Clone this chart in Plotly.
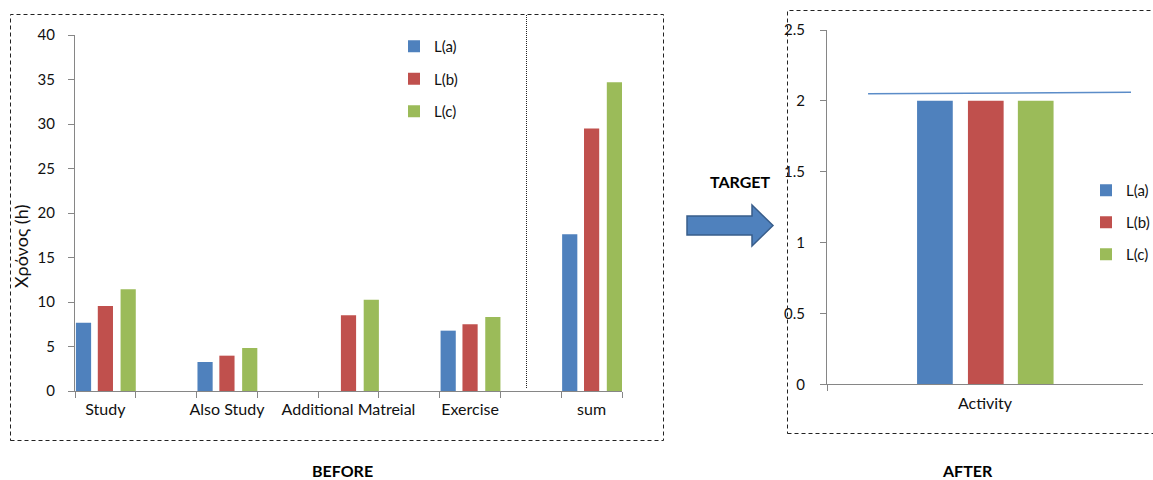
import plotly.graph_objects as go

W, H = 1153, 480

# ---------------- data ----------------
before_categories = ["Study", "Also Study", "Additional Matreial", "Exercise", "sum"]
before_La = [7.67, 3.26, None, 6.78, 17.6]
before_Lb = [9.55, 3.97, 8.5, 7.49, 29.5]
before_Lc = [11.43, 4.83, 10.26, 8.31, 34.7]

after_categories = ["Activity"]
after_La = [2]
after_Lb = [2]
after_Lc = [2]
target_line = [2.05, 2.06]

series_names = ["L(a)", "L(b)", "L(c)"]
before_ticks = [0, 5, 10, 15, 20, 25, 30, 35, 40]
after_ticks = [0, 0.5, 1, 1.5, 2, 2.5]

# ---------------- styles ----------------
colors = ["#4F81BD", "#C0504D", "#9BBB59"]
FONT = "Lato"
AXIS_COL = "#868686"
TXT = "#111111"


def fx(p):
    return p / W


def fy(p):
    return 1 - p / H


# category axis with empty spacer slots between the named categories
axis_cats = []
for i, c in enumerate(before_categories):
    if i:
        axis_cats.append(" " * i)
    axis_cats.append(c)

fig = go.Figure()

left_offsets = [-0.485, -0.125, 0.25]
right_offsets = [-0.215, -0.054, 0.104]

for k, (name, vals) in enumerate(zip(series_names, [before_La, before_Lb, before_Lc])):
    fig.add_trace(go.Bar(
        x=before_categories, y=vals, name=name, xaxis="x", yaxis="y",
        marker=dict(color=colors[k], line=dict(width=0)),
        width=0.25, offset=left_offsets[k],
        legend="legend", legendgroup="L" + str(k),
    ))

for k, (name, vals) in enumerate(zip(series_names, [after_La, after_Lb, after_Lc])):
    fig.add_trace(go.Bar(
        x=after_categories, y=vals, name=name, xaxis="x2", yaxis="y2",
        marker=dict(color=colors[k], line=dict(width=0)),
        width=0.113, offset=right_offsets[k],
        legend="legend2", legendgroup="R" + str(k),
    ))

axis_common = dict(
    showgrid=False, zeroline=False, showline=True, linecolor=AXIS_COL, linewidth=1,
    ticks="outside", ticklen=6, tickcolor=AXIS_COL, tickwidth=1, automargin=False,
    fixedrange=True,
)
yfont = dict(family=FONT, size=15, color=TXT)
xfont = dict(family=FONT, size=16, color=TXT)

fig.update_layout(
    width=W, height=H,
    margin=dict(l=0, r=0, t=0, b=0, autoexpand=False),
    paper_bgcolor="white", plot_bgcolor="rgba(0,0,0,0)",
    barmode="overlay",
    font=dict(family=FONT, color=TXT),
    xaxis=dict(domain=[fx(75), fx(622)], anchor="y", type="category",
               categoryorder="array", categoryarray=axis_cats, tickangle=0,
               tickson="boundaries", ticklabelstandoff=4, tickfont=xfont, **axis_common),
    yaxis=dict(domain=[fy(391), fy(35)], anchor="x", range=[0, 40],
               tickvals=before_ticks, ticklabelstandoff=10, tickfont=yfont, **axis_common),
    xaxis2=dict(domain=[fx(827), fx(1143)], anchor="y2", type="category",
                categoryorder="array", categoryarray=after_categories, tickangle=0,
                tickson="boundaries", ticklabelstandoff=4, tickfont=xfont, **axis_common),
    yaxis2=dict(domain=[fy(384.3), fy(30)], anchor="x2", range=[0, 2.5],
                tickvals=after_ticks, ticklabelstandoff=12, tickfont=yfont, **axis_common),
    legend=dict(x=fx(394), y=fy(30), xanchor="left", yanchor="top",
                font=dict(family=FONT, size=15, color=TXT),
                tracegroupgap=10, bgcolor="rgba(0,0,0,0)", itemclick=False),
    legend2=dict(x=fx(1086), y=fy(174), xanchor="left", yanchor="top",
                 font=dict(family=FONT, size=15, color=TXT),
                 tracegroupgap=9.5, bgcolor="rgba(0,0,0,0)", itemclick=False),
    showlegend=True,
)

shapes = []
# dashed frames
shapes.append(dict(type="rect", xref="paper", yref="paper",
                   x0=fx(10.5), x1=fx(663.5), y0=fy(440.5), y1=fy(14.5),
                   line=dict(color="#222222", width=1, dash="4px,3px")))
shapes.append(dict(type="rect", xref="paper", yref="paper",
                   x0=fx(787.5), x1=fx(1160), y0=fy(433.5), y1=fy(10.5),
                   line=dict(color="#222222", width=1, dash="4px,3px")))
# dotted separator before "sum"
shapes.append(dict(type="line", xref="paper", yref="paper",
                   x0=fx(526.5), x1=fx(526.5), y0=fy(388), y1=fy(14),
                   line=dict(color="#222222", width=1, dash="1px,1px")))
# target line in AFTER chart
shapes.append(dict(type="line", xref="x2 domain", yref="y2",
                   x0=0.13, x1=0.962, y0=target_line[0], y1=target_line[1],
                   line=dict(color="#5B8CC8", width=1.5)))
# block arrow
pts = [(687, 216), (752, 216), (752, 205), (773, 225.5), (752, 246), (752, 235), (687, 235)]
path = "M " + " L ".join(f"{fx(a):.5f},{fy(b):.5f}" for a, b in pts) + " Z"
shapes.append(dict(type="path", xref="paper", yref="paper", path=path,
                   fillcolor="#4F81BD", line=dict(color="#385D8A", width=1.5)))
fig.update_layout(shapes=shapes)

ann = [
    dict(text="Χρόνος (h)", x=fx(21), y=fy(246), textangle=-90,
         font=dict(family=FONT, size=18, color=TXT)),
    dict(text="<b>BEFORE</b>", x=fx(342), y=fy(470),
         font=dict(family=FONT, size=16, color="black")),
    dict(text="<b>AFTER</b>", x=fx(967), y=fy(470),
         font=dict(family=FONT, size=16, color="black")),
    dict(text="<b>TARGET</b>", x=fx(740), y=fy(181),
         font=dict(family=FONT, size=16, color="black")),
]
for a in ann:
    a.update(xref="paper", yref="paper", showarrow=False, xanchor="center", yanchor="middle")
fig.update_layout(annotations=ann)

fig.write_html("out.html")
